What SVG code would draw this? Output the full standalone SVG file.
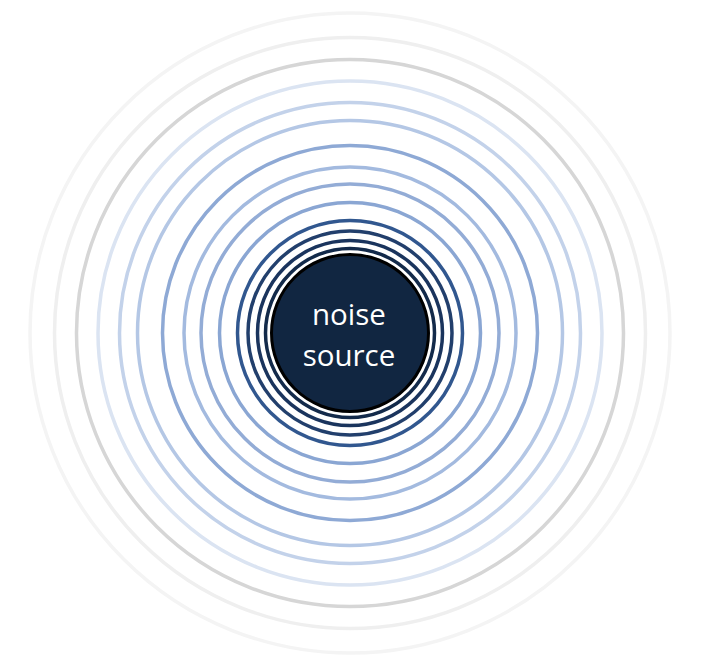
<svg xmlns="http://www.w3.org/2000/svg" width="704" height="666" viewBox="0 0 704 666">
<style>
.r{fill:none;stroke-width:3.5}
.t{font-family:"Open Sans","Noto Sans",sans-serif;font-size:29.5px;fill:#ffffff;text-anchor:middle}
</style>
<rect width="704" height="666" fill="#ffffff"/>
<g id="waves">
<circle class="r" cx="350" cy="333" r="320" stroke="#f4f4f4"/>
<circle class="r" cx="350" cy="333" r="295.5" stroke="#efefef"/>
<circle class="r" cx="350" cy="333" r="273.5" stroke="#d6d6d6"/>
<circle class="r" cx="350" cy="333" r="252" stroke="#dbe4f2"/>
<circle class="r" cx="350" cy="333" r="230.5" stroke="#c3d2ea"/>
<circle class="r" cx="350" cy="333" r="212.5" stroke="#b4c7e5"/>
<circle class="r" cx="350" cy="333" r="187.5" stroke="#8ea9d5"/>
<circle class="r" cx="350" cy="333" r="166" stroke="#a3badf"/>
<circle class="r" cx="350" cy="333" r="149" stroke="#93acd6"/>
<circle class="r" cx="350" cy="333" r="130.5" stroke="#8aa6d3"/>
<circle class="r" cx="350" cy="333" r="112.5" stroke="#31578f"/>
<circle class="r" cx="350" cy="333" r="102" stroke="#223f6c"/>
<circle class="r" cx="350" cy="333" r="92.5" stroke="#1a345d"/>
<circle class="r" cx="350" cy="333" r="84.5" stroke="#132a4a"/>
</g>
<g id="noise-source">
<circle cx="350" cy="333" r="78.5" fill="#112641" stroke="#000000" stroke-width="3"/>
<text class="t" x="349" y="325">noise</text>
<text class="t" x="349" y="366">source</text>
</g>
</svg>
